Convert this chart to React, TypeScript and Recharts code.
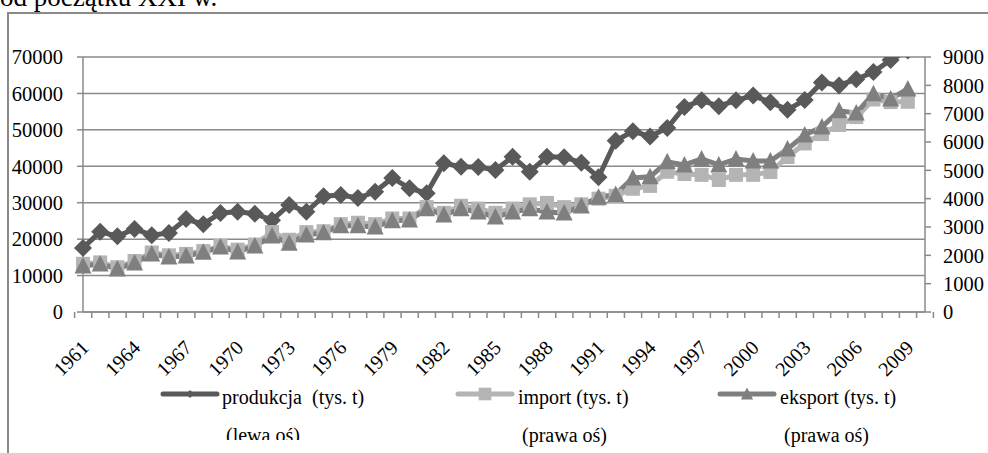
import { CartesianGrid, Legend, Line, LineChart, XAxis, YAxis } from 'recharts'

const years = [
  '1961', '1962', '1963', '1964', '1965', '1966', '1967', '1968', '1969', '1970',
  '1971', '1972', '1973', '1974', '1975', '1976', '1977', '1978', '1979', '1980',
  '1981', '1982', '1983', '1984', '1985', '1986', '1987', '1988', '1989', '1990',
  '1991', '1992', '1993', '1994', '1995', '1996', '1997', '1998', '1999', '2000',
  '2001', '2002', '2003', '2004', '2005', '2006', '2007', '2008', '2009', '2010',
]

// tys. t, lewa oś
const produkcja = [
  17600, 22000, 20800, 22800, 21100, 21700, 25500, 24100, 27200, 27500,
  27000, 25200, 29400, 27500, 31800, 32100, 31300, 33000, 36800, 34000,
  32600, 40800, 39900, 39800, 39000, 42600, 38500, 42600, 42500, 41000,
  37000, 47000, 49600, 48200, 50500, 56300, 58100, 56500, 58100, 59400,
  57600, 55500, 58200, 63000, 62200, 63900, 65900, 69200, 71800, null,
]

// tys. t, prawa oś
const importVals = [
  1700, 1750, 1580, 1800, 2100, 2000, 2050, 2150, 2330, 2200,
  2380, 2820, 2550, 2820, 2850, 3100, 3150, 3100, 3300, 3300,
  3700, 3500, 3750, 3650, 3500, 3650, 3800, 3850, 3700, 3800,
  4000, 4100, 4350, 4450, 4950, 4870, 4840, 4660, 4840, 4840,
  4940, 5470, 5950, 6280, 6600, 6880, 7500, 7410, 7420, null,
]

const eksport = [
  1620, 1690, 1520, 1730, 2050, 1940, 1980, 2110, 2290, 2120,
  2330, 2680, 2430, 2720, 2800, 3040, 3040, 3000, 3220, 3250,
  3640, 3420, 3640, 3530, 3350, 3530, 3640, 3530, 3490, 3740,
  4050, 4150, 4730, 4770, 5300, 5190, 5400, 5190, 5400, 5330,
  5330, 5750, 6250, 6530, 7100, 7020, 7700, 7520, 7870, null,
]

const seriesKeys = ['produkcja', 'import', 'eksport']
const seriesNames = ['produkcja  (tys. t)', 'import (tys. t)', 'eksport (tys. t)']
const axisNotes = ['(lewa oś)', '(prawa oś)', '(prawa oś)']
const leftTicks = [0, 10000, 20000, 30000, 40000, 50000, 60000, 70000]
const rightTicks = [0, 1000, 2000, 3000, 4000, 5000, 6000, 7000, 8000, 9000]

const data = years.map((year, i) => ({
  year,
  produkcja: produkcja[i],
  import: importVals[i],
  eksport: eksport[i],
}))

const W = 988
const H = 453
const PLOT_LEFT = 83
const PLOT_RIGHT = 925
const BAND = (PLOT_RIGHT - PLOT_LEFT) / years.length
const GRAY = '#8a8a8a'
const FONT = '"Liberation Serif", "Times New Roman", serif'
const PROD_COLOR = '#595959'
const IMP_COLOR = '#b4b4b4'
const EXP_COLOR = '#7f7f7f'

function YearTick(props: any) {
  const { x, y, index, payload } = props
  const half = BAND / 2
  const tx = x + 7
  const ty = y + 37
  return (
    <g>
      <line x1={x - half} x2={x - half} y1={y} y2={y + 6} stroke={GRAY} strokeWidth={1.5} />
      {index === years.length - 1 && (
        <line x1={x + half} x2={x + half} y1={y} y2={y + 6} stroke={GRAY} strokeWidth={1.5} />
      )}
      {index % 3 === 0 && (
        <text
          x={tx}
          y={ty}
          transform={`rotate(-45 ${tx} ${ty})`}
          textAnchor="end"
          fontSize={20}
          fontFamily={FONT}
          fill="#000"
        >
          {payload.value}
        </text>
      )}
    </g>
  )
}

const diamondDot = (props: any) => {
  const { cx, cy, index } = props
  if (cx == null || cy == null) return <g key={`p-${index}`} />
  const r = 9
  return (
    <polygon
      key={`p-${index}`}
      points={`${cx},${cy - r} ${cx + r},${cy} ${cx},${cy + r} ${cx - r},${cy}`}
      fill={PROD_COLOR}
    />
  )
}

const squareDot = (props: any) => {
  const { cx, cy, index } = props
  if (cx == null || cy == null) return <g key={`i-${index}`} />
  return <rect key={`i-${index}`} x={cx - 7} y={cy - 7} width={14} height={14} fill={IMP_COLOR} />
}

const triangleDot = (props: any) => {
  const { cx, cy, index } = props
  if (cx == null || cy == null) return <g key={`e-${index}`} />
  return (
    <polygon
      key={`e-${index}`}
      points={`${cx},${cy - 9} ${cx + 8.5},${cy + 7.5} ${cx - 8.5},${cy + 7.5}`}
      fill={EXP_COLOR}
    />
  )
}

const legendSpots = [
  { lineX: 163, textX: 222, scale: 0.45, dot: diamondDot },
  { lineX: 458, textX: 518, scale: 0.9, dot: squareDot },
  { lineX: 720, textX: 780, scale: 0.72, dot: triangleDot },
]

function LegendBox({ payload }: any) {
  const items = payload ?? []
  return (
    <svg width={W} height={H} style={{ position: 'absolute', left: 0, top: 0 }}>
      <defs>
        <clipPath id="legend-clip-0">
          <rect x={0} y={0} width={W} height={440} />
        </clipPath>
      </defs>
      {items.map((item: any) => {
        const i = seriesKeys.indexOf(String(item.dataKey))
        const spot = legendSpots[i]
        if (!spot) return null
        const mx = spot.lineX + 27
        const my = 394
        return (
          <g key={String(item.dataKey)} fontFamily={FONT} fontSize={20} fill="#000">
            <line
              x1={spot.lineX}
              x2={spot.lineX + 54}
              y1={my}
              y2={my}
              stroke={item.color}
              strokeWidth={5}
              strokeLinecap="round"
            />
            <g transform={`translate(${mx},${my}) scale(${spot.scale}) translate(${-mx},${-my})`}>
              {spot.dot({ cx: mx, cy: my, index: 'legend' })}
            </g>
            <text x={spot.textX} y={404} style={{ whiteSpace: 'pre' }}>
              {item.value}
            </text>
            <g clipPath={i === 0 ? 'url(#legend-clip-0)' : undefined}>
              <text x={spot.textX + 4} y={441.5}>
                {axisNotes[i]}
              </text>
            </g>
          </g>
        )
      })}
    </svg>
  )
}

export default function App() {
  return (
    <div
      style={{
        position: 'absolute',
        left: 0,
        top: 0,
        width: W,
        height: H,
        overflow: 'hidden',
        background: '#fff',
      }}
    >
      <div
        style={{
          position: 'absolute',
          left: 7,
          top: 11.5,
          width: 2000,
          height: 2000,
          borderLeft: `2px solid ${GRAY}`,
          borderTop: `2px solid ${GRAY}`,
        }}
      />
      <svg width={W} height={20} style={{ position: 'absolute', left: 0, top: 0 }}>
        <text x={0} y={6} fontFamily={FONT} fontSize={27} fill="#000">
          od początku XXI w.
        </text>
      </svg>
      <div style={{ position: 'absolute', left: 0, top: 0 }}>
        <LineChart
          width={W}
          height={H}
          data={data}
          margin={{ top: 57, right: 0, bottom: 81, left: 0 }}
        >
          <CartesianGrid
            yAxisId="left"
            vertical={false}
            stroke={GRAY}
            strokeWidth={1.5}
            strokeDasharray=""
          />
          <XAxis
            dataKey="year"
            interval={0}
            height={60}
            tickSize={0}
            tickMargin={0}
            tickLine={false}
            axisLine={{ stroke: GRAY, strokeWidth: 1.5 }}
            tick={(p: any) => <YearTick {...p} />}
          />
          <YAxis
            yAxisId="left"
            orientation="left"
            width={PLOT_LEFT}
            domain={[0, 70000]}
            ticks={leftTicks}
            allowDataOverflow
            interval={0}
            tickSize={6}
            tickMargin={14}
            axisLine={{ stroke: GRAY, strokeWidth: 1.5 }}
            tickLine={{ stroke: GRAY, strokeWidth: 1.5 }}
            tick={{ fill: '#000', fontSize: 20.5, fontFamily: FONT }}
          />
          <YAxis
            yAxisId="right"
            orientation="right"
            width={W - PLOT_RIGHT}
            domain={[0, 9000]}
            ticks={rightTicks}
            interval={0}
            tickSize={6}
            tickMargin={12}
            axisLine={{ stroke: GRAY, strokeWidth: 1.5 }}
            tickLine={{ stroke: GRAY, strokeWidth: 1.5 }}
            tick={{ fill: '#000', fontSize: 20.5, fontFamily: FONT }}
          />
          <Line
            yAxisId="left"
            dataKey="produkcja"
            name={seriesNames[0]}
            stroke={PROD_COLOR}
            strokeWidth={5}
            dot={diamondDot}
            clipDot={false}
            activeDot={false}
            isAnimationActive={false}
          />
          <Line
            yAxisId="right"
            dataKey="import"
            name={seriesNames[1]}
            stroke={IMP_COLOR}
            strokeWidth={5}
            dot={squareDot}
            activeDot={false}
            isAnimationActive={false}
          />
          <Line
            yAxisId="right"
            dataKey="eksport"
            name={seriesNames[2]}
            stroke={EXP_COLOR}
            strokeWidth={5}
            dot={triangleDot}
            activeDot={false}
            isAnimationActive={false}
          />
          <Legend
            layout="horizontal"
            verticalAlign="middle"
            align="center"
            content={(p: any) => <LegendBox {...p} />}
            wrapperStyle={{ position: 'absolute', left: 0, top: 0, width: W, height: H, pointerEvents: 'none' }}
          />
        </LineChart>
      </div>
    </div>
  )
}
